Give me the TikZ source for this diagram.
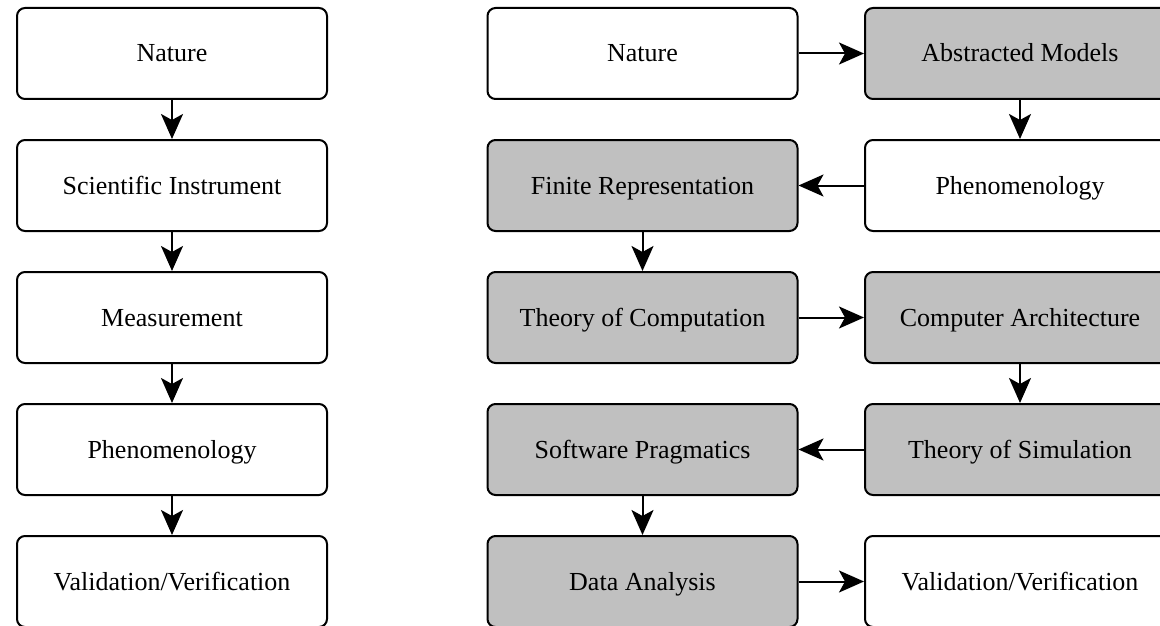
\documentclass[tikz,border=0pt]{standalone}
\usepackage{fontspec}
\setmainfont{Liberation Serif}
\usetikzlibrary{arrows.meta}
\definecolor{boxgray}{HTML}{C0C0C0}
\tikzset{
  box/.style={draw=black, line width=2pt, rounded corners=8pt, minimum width=310pt,
    minimum height=91pt, inner sep=0pt, text height=23pt, text depth=6pt,
    fill=white, font=\fontsize{26}{30}\selectfont},
  shaded/.style={box, fill=boxgray},
  flow/.style={line width=2pt, -{Stealth[length=25pt, width=22pt, inset=6pt]}}
}
\begin{document}
\begin{tikzpicture}[x=1pt, y=-1pt]
\useasboundingbox (0,0) rectangle (1160,626);
\clip (0,0) rectangle (1160,626);
% traditional experimental pipeline
\node[box] (l1) at (172,53.5) {Nature};
\node[box] (l2) at (172,185.5) {Scientific Instrument};
\node[box] (l3) at (172,317.5) {Measurement};
\node[box] (l4) at (172,449.5) {Phenomenology};
\node[box] (l5) at (172,581.5) {Validation/Verification};
\draw[flow] (l1) -- (l2);
\draw[flow] (l2) -- (l3);
\draw[flow] (l3) -- (l4);
\draw[flow] (l4) -- (l5);
% computational pipeline
\node[box] (m1) at (642.5,53.5) {Nature};
\node[shaded] (r1) at (1020,53.5) {Abstracted Models};
\node[shaded] (m2) at (642.5,185.5) {Finite Representation};
\node[box] (r2) at (1020,185.5) {Phenomenology};
\node[shaded] (m3) at (642.5,317.5) {Theory of Computation};
\node[shaded] (r3) at (1020,317.5) {Computer Architecture};
\node[shaded] (m4) at (642.5,449.5) {Software Pragmatics};
\node[shaded] (r4) at (1020,449.5) {Theory of Simulation};
\node[shaded] (m5) at (642.5,581.5) {Data Analysis};
\node[box] (r5) at (1020,581.5) {Validation/Verification};
\draw[flow] (m1) -- (r1);
\draw[flow] (r1) -- (r2);
\draw[flow] (r2) -- (m2);
\draw[flow] (m2) -- (m3);
\draw[flow] (m3) -- (r3);
\draw[flow] (r3) -- (r4);
\draw[flow] (r4) -- (m4);
\draw[flow] (m4) -- (m5);
\draw[flow] (m5) -- (r5);
\end{tikzpicture}
\end{document}
